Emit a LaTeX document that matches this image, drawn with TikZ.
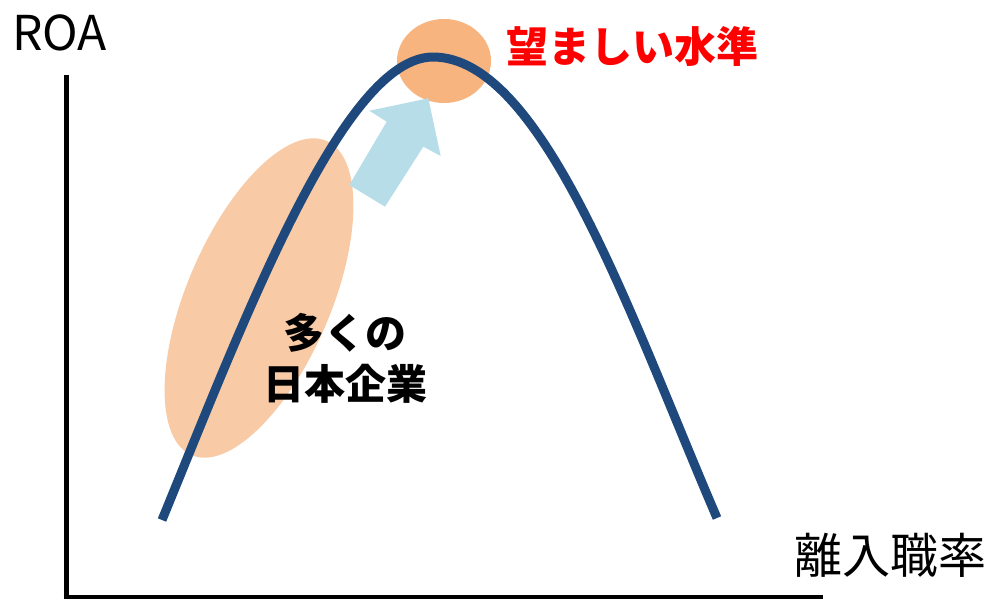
\documentclass[tikz,border=0pt]{standalone}
\usepackage{fontspec}
\setmainfont{Noto Sans CJK JP}
\definecolor{curveblue}{HTML}{1F497D}
\definecolor{peakorange}{HTML}{F7B47F}
\definecolor{groupor}{HTML}{F8CBA6}
\definecolor{arrowblue}{HTML}{B7DEE8}
\definecolor{goalred}{HTML}{FF0000}
\tikzset{
  axisline/.style={line width=5pt, black},
  bellcurve/.style={line width=9pt, curveblue, line cap=butt},
  lbl/.style={inner sep=0pt, anchor=center},
}
\begin{document}
\begin{tikzpicture}[x=1pt, y=-1pt]
\useasboundingbox (0,0) rectangle (988,598);
% group ellipse
\fill[groupor, rotate around={66.8:(259,298)}] (259,298) ellipse [x radius=171, y radius=72];
% peak circle
\fill[peakorange] (444,61) ellipse [x radius=47, y radius=42];
% arrow
\fill[arrowblue] (428.3,98.3) -- (440.7,156) -- (423.3,146.7) -- (385,206.7)
  -- (349.3,185) -- (386.7,121.7) -- (369.3,110.7) -- cycle;
% axes
\coordinate (ytop) at (66,75);
\coordinate (orig) at (66,597);
\coordinate (xend) at (823,597);
\draw[axisline] (ytop) -- (66,599.5);
\draw[axisline] (63.5,597) -- (xend);
% curve
\coordinate (c0) at (162,520);
\coordinate (cpk) at (433,57);
\coordinate (c1) at (717,518);
\draw[bellcurve] (c0) .. controls (244,320) and (343,57) .. (cpk)
  .. controls (543,57) and (631,318) .. (c1);
% labels
\node[lbl, font=\fontsize{48}{56}\selectfont, anchor=west] (roa) at (12,33) {ROA};
\node[lbl, font=\fontsize{48}{56}\selectfont] (rate) at (890,555) {離入職率};
\node[lbl, font=\fontsize{42}{50}\selectfont\bfseries, text=goalred] (goal) at (632,46) {望ましい水準};
\node[lbl, font=\fontsize{41}{51}\selectfont\bfseries, align=center] (many) at (345,358) {多くの\\日本企業};
\end{tikzpicture}
\end{document}
